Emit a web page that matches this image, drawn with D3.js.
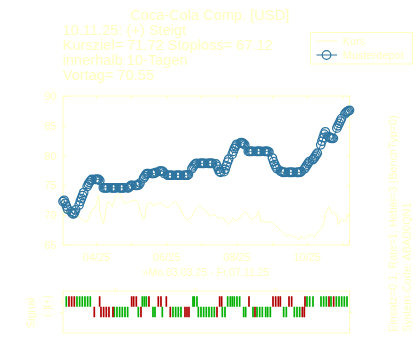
<!DOCTYPE html>
<html>
<head>
<meta charset="utf-8">
<script src="https://cdn.jsdelivr.net/npm/d3@7"></script>
<style>
  html, body { margin: 0; padding: 0; background: #fff; }
  svg { display: block; }
  text { font-family: "Liberation Sans", Arial, sans-serif; fill: #ffffbf; }
</style>
</head>
<body>
<div id="chart"></div>
<script>
(function() {
    // ---- data ----
    const firstDay = "2025-03-03";
    const lastDay = "2025-11-07";

    // daily close (one value per weekday, Mar 3 .. Nov 7)
    const kurs = [
        70.3, 70.5, 70.8, 70.6, 70.4,  70.0, 69.8, 69.6, 69.5, 69.7,
        69.8, 69.6, 69.4, 69.2, 69.0,  68.9, 69.3, 69.8, 70.4, 70.9,
        71.2, 71.8, 72.6, 73.4, 70.5,  68.6, 69.2, 70.6, 71.6, 72.3,
        71.8, 71.4, 72.2, 72.8, 73.1,  73.7, 73.4, 72.8, 72.5, 72.1,
        72.0, 72.2, 72.3, 72.4, 72.5,  72.5, 72.4, 72.3, 71.5, 70.6,
        69.2, 69.6, 70.8, 71.7, 72.0,  72.0, 71.7, 71.5, 71.8, 72.0,
        71.8, 71.9, 72.0, 71.8, 71.6,  71.2, 71.4, 71.6, 71.8, 72.0,
        72.3, 72.0, 71.7, 71.5, 71.0,  69.8, 69.5, 69.4, 69.2, 69.3,
        69.8, 70.2, 70.6, 71.0, 71.2,  71.7, 71.5, 71.3, 71.0, 70.8,
        70.4, 69.9, 69.8, 70.0, 70.1,  69.9, 69.7, 69.5, 69.5, 69.7,
        69.4, 69.0, 68.9, 68.6, 68.4,  69.2, 69.5, 69.3, 69.0, 69.2,
        69.6, 70.0, 70.2, 70.4, 70.6,  70.0, 69.7, 69.4, 69.2, 69.4,
        69.8, 70.3, 70.6, 69.8, 69.0,  68.9, 68.7, 68.8, 68.9, 68.9,
        68.8, 68.6, 68.4, 68.2, 68.0,  67.5, 67.3, 67.2, 66.9, 66.6,
        66.5, 66.7, 66.6, 66.5, 66.4,  66.2, 66.0, 65.8, 66.1, 66.4,
        66.1, 66.2, 66.4, 66.5, 66.7,  66.6, 66.5, 66.4, 66.8, 67.1,
        67.6, 67.9, 68.3, 68.9, 70.2,  71.4, 71.0, 70.6, 70.3, 70.5,
        70.0, 68.4, 68.6, 69.2, 69.4,  68.9, 69.1, 69.5, 70.0, 70.5
    ];

    // model portfolio value, same days
    const depot = [
        72.3, 72.5, 72.0, 71.5, 71.0,  70.6, 70.3, 70.2, 70.4, 70.9,
        71.7, 72.3, 72.8, 73.3, 73.8,  74.8, 75.2, 75.5, 75.8, 76.0,
        76.0, 76.0, 76.0, 76.0, 75.8,  74.6, 74.6, 74.6, 74.6, 74.6,
        74.6, 74.6, 74.6, 74.6, 74.6,  74.6, 74.6, 74.6, 74.6, 74.6,
        74.6, 74.6, 74.8, 75.0, 75.0,  75.0, 75.0, 75.0, 75.1, 75.4,
        76.2, 76.5, 76.8, 77.0, 77.0,  77.0, 77.0, 77.0, 77.1, 77.2,
        77.4, 77.4, 77.4, 77.3, 77.0,  76.7, 76.7, 76.7, 76.7, 76.7,
        76.7, 76.7, 76.7, 76.7, 76.7,  76.7, 76.7, 76.7, 76.7, 76.8,
        77.8, 78.1, 78.4, 78.6, 78.7,  78.7, 78.7, 78.7, 78.7, 78.7,
        78.7, 78.7, 78.7, 78.7, 78.7,  78.6, 78.2, 77.7, 77.3, 77.2,
        77.3, 77.7, 78.3, 78.9, 79.4,  80.2, 80.7, 81.2, 81.6, 81.9,
        82.1, 82.2, 82.1, 82.0, 81.8,  80.7, 80.7, 80.7, 80.7, 80.7,
        80.7, 80.7, 80.7, 80.7, 80.7,  80.7, 80.7, 80.7, 80.7, 80.6,
        79.6, 79.0, 78.5, 78.1, 77.8,  77.4, 77.3, 77.2, 77.2, 77.2,
        77.2, 77.2, 77.2, 77.2, 77.2,  77.2, 77.2, 77.2, 77.2, 77.3,
        77.8, 78.1, 78.4, 78.7, 79.0,  79.3, 79.5, 79.8, 80.1, 80.4,
        81.8, 82.4, 83.0, 83.6, 84.0,  83.2, 83.0, 82.9, 82.9, 82.9,
        84.6, 85.0, 85.4, 85.8, 86.2,  87.0, 87.2, 87.4, 87.5, 87.6
    ];

    const yTicks = [65, 70, 75, 80, 85, 90];
    const monthTicks = ["2025-04-01", "2025-05-01", "2025-06-01", "2025-07-01",
                        "2025-08-01", "2025-09-01", "2025-10-01", "2025-11-01"];
    const monthLabels = ["04/25", "", "06/25", "", "08/25", "", "10/25", ""];

    const title = "Coca-Cola Comp. [USD]";
    const infoLines = ["10.11.25: (+) Steigt",
                       "Kursziel= 71.72  Stoploss= 67.12",
                       "innerhalb 10-Tagen",
                       "Vortag= 70.55"];
    const xLabel = "\u00bbMo,03.03.25 - Fr,07.11.25";
    const sideLines = ["Einsatz=0.1, Rate=1, Hebel=3 (BenchTyp=0)",
                       "System-Code: ABAD0QN1"];

    // signal strip: bar slots (upper = (+), lower = (-))
    const upGreen = [0, 4, 5, 6, 7, 8, 9, 28.5, 29.25, 30, 47.5, 48, 49,
                     60.5, 61.5, 62.25, 63, 64, 65, 90.25, 91.25, 92.5,
                     95.5, 96.5, 97.5, 99.25, 101.25, 102.25, 103.25, 104.25, 105.25];
    const upRed = [1, 2, 3, 12.5, 24.5, 25.25, 26.25, 31, 34.5, 35.5, 37.5,
                   57.5, 58.25, 68.5, 77.5, 78.5, 79.5, 80.25, 83.5, 84.5,
                   89.5, 98.5, 100.25];
    const downGreen = [18, 19, 20, 21, 22, 23, 27, 32.5, 33.25, 36, 40, 41, 42, 43,
                       49.5, 50.5, 51.5, 52.5, 53.5, 54.5, 55.5, 58.5, 59.5,
                       66.5, 67.25, 70, 71.5, 72.5, 73.5, 74.75, 75.5, 76.5,
                       81.5, 82.5, 85.5, 86.5, 87.5];
    const downRed = [10.5, 13, 14, 15, 16, 17.5, 28, 39, 44.5, 45.25, 46,
                     56.5, 70.75, 88.5, 89.25];
    const sigTicks = [18.25, 48.25, 78.25];

    // ---- layout ----
    const W = 420, H = 350;
    const pale = "#ffffbf";
    const blue = "#2e75a0";
    const green = "#00b000";
    const red = "#b00000";
    const plot = {left: 63, right: 349.5, top: 96, bottom: 245};
    const strip = {top: 291, bottom: 333};

    const svg = d3.select("#chart")
        .append("svg")
        .attr("width", W)
        .attr("height", H);

    svg.append("rect")
        .attr("width", W)
        .attr("height", H)
        .attr("fill", "#fff");

    const parse = d3.timeParse("%Y-%m-%d");
    const days = d3.timeDay.range(parse(firstDay), d3.timeDay.offset(parse(lastDay), 1))
        .filter(d => d.getDay() !== 0 && d.getDay() !== 6);
    const rows = days.map((d, i) => ({date: d, kurs: kurs[i], depot: depot[i]}));

    const x = d3.scaleTime()
        .domain([parse(firstDay), parse(lastDay)])
        .range([plot.left, plot.right]);

    const y = d3.scaleLinear()
        .domain([65, 90])
        .range([plot.bottom, plot.top]);

    // axes (ticks point inward)
    const months = monthTicks.map(parse);

    const gl = svg.append("g")
        .attr("transform", `translate(${plot.left},0)`)
        .call(d3.axisLeft(y).tickValues(yTicks).tickSize(-3).tickPadding(6));
    const gr = svg.append("g")
        .attr("transform", `translate(${plot.right},0)`)
        .call(d3.axisRight(y).tickValues(yTicks).tickSize(-3).tickFormat(""));
    const gb = svg.append("g")
        .attr("transform", `translate(0,${plot.bottom})`)
        .call(d3.axisBottom(x).tickValues(months).tickSize(-3).tickPadding(8)
            .tickFormat((d, i) => monthLabels[i]));
    const gt = svg.append("g")
        .attr("transform", `translate(0,${plot.top})`)
        .call(d3.axisTop(x).tickValues(months).tickSize(-3).tickFormat(""));

    [gl, gr, gb, gt].forEach(g => {
        g.select(".domain").remove();
        g.selectAll("line").attr("stroke", pale);
        g.selectAll("text")
            .style("font-family", "'Liberation Sans', Arial, sans-serif")
            .style("font-size", "11px")
            .attr("fill", pale);
    });

    svg.append("rect")
        .attr("x", plot.left)
        .attr("y", plot.top)
        .attr("width", plot.right - plot.left)
        .attr("height", plot.bottom - plot.top)
        .attr("fill", "none")
        .attr("stroke", pale)
        .attr("stroke-width", 1);

    // Kurs line
    svg.append("path")
        .datum(rows)
        .attr("fill", "none")
        .attr("stroke", pale)
        .attr("stroke-width", 1)
        .attr("d", d3.line().x(d => x(d.date)).y(d => y(d.kurs)));

    // Musterdepot line + circles
    svg.append("path")
        .datum(rows)
        .attr("fill", "none")
        .attr("stroke", blue)
        .attr("stroke-width", 1)
        .attr("d", d3.line().x(d => x(d.date)).y(d => y(d.depot)));

    svg.append("g")
        .selectAll("circle")
        .data(rows)
        .enter()
        .append("circle")
        .attr("cx", d => x(d.date))
        .attr("cy", d => y(d.depot))
        .attr("r", 4.2)
        .attr("fill", "none")
        .attr("stroke", blue)
        .attr("stroke-width", 1.3);

    // x label
    svg.append("text")
        .attr("x", (plot.left + plot.right) / 2)
        .attr("y", 276)
        .attr("text-anchor", "middle")
        .style("font-size", "10.6px")
        .text(xLabel);

    // title + info
    svg.append("text")
        .attr("x", 210)
        .attr("y", 20)
        .attr("text-anchor", "middle")
        .style("font-size", "14.6px")
        .text(title);

    infoLines.forEach((t, i) => {
        svg.append("text")
            .attr("x", plot.left)
            .attr("y", 35 + i * 15)
            .style("font-size", "14.6px")
            .text(t);
    });

    // legend
    const legend = svg.append("g").attr("transform", "translate(310.5,32.5)");
    legend.append("rect")
        .attr("width", 102)
        .attr("height", 31.5)
        .attr("fill", "none")
        .attr("stroke", pale);
    legend.append("line")
        .attr("x1", 6).attr("x2", 26.5)
        .attr("y1", 8.5).attr("y2", 8.5)
        .attr("stroke", pale);
    legend.append("line")
        .attr("x1", 6).attr("x2", 26.5)
        .attr("y1", 22.5).attr("y2", 22.5)
        .attr("stroke", blue);
    legend.append("circle")
        .attr("cx", 16).attr("cy", 22.5).attr("r", 4.3)
        .attr("fill", "none")
        .attr("stroke", blue)
        .attr("stroke-width", 1.2);
    legend.append("text").attr("x", 32.5).attr("y", 12.7)
        .style("font-size", "11px").text("Kurs");
    legend.append("text").attr("x", 32.5).attr("y", 26.2)
        .style("font-size", "11px").text("Musterdepot");

    // rotated notes on the right
    sideLines.forEach((t, i) => {
        svg.append("text")
            .attr("transform", `translate(${397 + i * 14},332) rotate(-90)`)
            .style("font-size", "10.9px")
            .text(t);
    });

    // ---- signal strip ----
    const sx = d3.scaleLinear()
        .domain([0, 105.25])
        .range([plot.left + 3.3, plot.right - 2.5]);
    const sy = d3.scaleLinear()
        .domain([-5, 3])
        .range([strip.bottom, strip.top]);

    svg.append("rect")
        .attr("x", plot.left)
        .attr("y", strip.top)
        .attr("width", plot.right - plot.left)
        .attr("height", strip.bottom - strip.top)
        .attr("fill", "none")
        .attr("stroke", pale);

    const sTop = svg.append("g")
        .attr("transform", `translate(0,${strip.top})`)
        .call(d3.axisTop(sx).tickValues(sigTicks).tickSize(3).tickFormat(""));
    const sLeft = svg.append("g")
        .attr("transform", `translate(${plot.left},0)`)
        .call(d3.axisLeft(sy).tickValues([1, -1]).tickSize(3).tickFormat(""));
    const sRight = svg.append("g")
        .attr("transform", `translate(${plot.right},0)`)
        .call(d3.axisRight(sy).tickValues([-1]).tickSize(3).tickFormat(""));
    [sTop, sLeft, sRight].forEach(g => {
        g.select(".domain").remove();
        g.selectAll("line").attr("stroke", pale);
    });

    const bars = [
        {slots: upGreen, level: 1, color: green},
        {slots: upRed, level: 1, color: red},
        {slots: downGreen, level: -1, color: green},
        {slots: downRed, level: -1, color: red}
    ];
    bars.forEach(b => {
        svg.append("g")
            .selectAll("rect")
            .data(b.slots)
            .enter()
            .append("rect")
            .attr("x", d => sx(d) - 0.85)
            .attr("width", 1.7)
            .attr("y", sy(b.level + 1))
            .attr("height", sy(b.level - 1) - sy(b.level + 1))
            .attr("fill", b.color);
    });

    svg.append("text")
        .attr("transform", `translate(35,313) rotate(-90)`)
        .attr("text-anchor", "middle")
        .style("font-size", "11px")
        .text("Signal");
    svg.append("text")
        .attr("transform", `translate(51,${sy(1)}) rotate(-90)`)
        .attr("text-anchor", "middle")
        .style("font-size", "10px")
        .text("(+)");
    svg.append("text")
        .attr("transform", `translate(51,${sy(-1)}) rotate(-90)`)
        .attr("text-anchor", "middle")
        .style("font-size", "10px")
        .text("(-)");
})();
</script>
</body>
</html>
